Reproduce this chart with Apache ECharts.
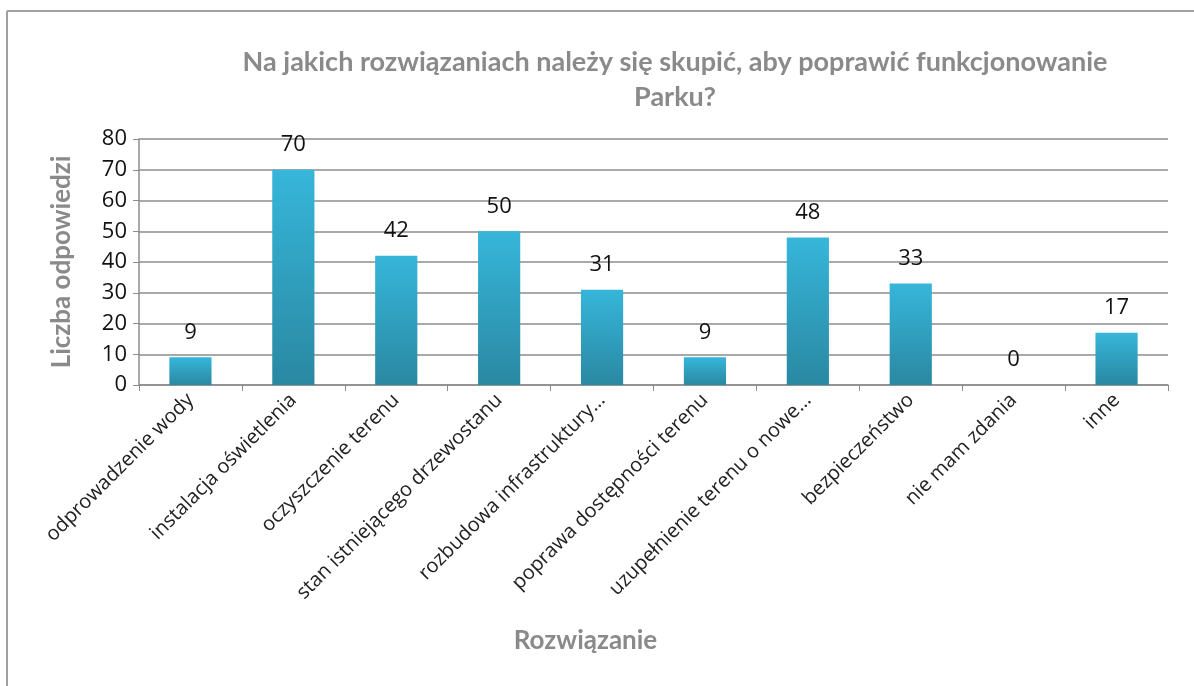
<!DOCTYPE html>
<html>
<head>
<meta charset="utf-8">
<script src="https://cdn.jsdelivr.net/npm/echarts@6/dist/echarts.min.js"></script>
<style>
  html, body { margin: 0; padding: 0; background: #fff; }
  #main { width: 1194px; height: 686px; }
</style>
</head>
<body>
<div id="main"></div>
<script>
var categories = [
  'odprowadzenie wody',
  'instalacja oświetlenia',
  'oczyszczenie terenu',
  'stan istniejącego drzewostanu',
  'rozbudowa infrastruktury…',
  'poprawa dostępności terenu',
  'uzupełnienie terenu o nowe…',
  'bezpieczeństwo',
  'nie mam zdania',
  'inne'
];
var answers = [9, 70, 42, 50, 31, 9, 48, 33, 0, 17];
var yTicks = [0, 80, 10];

var chartDom = document.getElementById('main');
var myChart = echarts.init(chartDom);
var option;

option = {
  animation: false,
  title: {
    text: 'Na jakich rozwiązaniach należy się skupić, aby poprawić funkcjonowanie\nParku?',
    left: 670,
    top: 40,
    textAlign: 'center',
    textStyle: {
      fontFamily: 'Lato',
      fontWeight: 'bold',
      fontSize: 27,
      lineHeight: 35,
      color: '#8a8a8a'
    }
  },
  graphic: [
    { type: 'line', shape: { x1: 7, y1: 11, x2: 1194, y2: 11 }, style: { stroke: '#a0a0a0', lineWidth: 2 } },
    { type: 'line', shape: { x1: 7, y1: 11, x2: 7, y2: 686 }, style: { stroke: '#a0a0a0', lineWidth: 2 } }
  ],
  grid: {
    left: 139,
    right: 26,
    top: 139,
    bottom: 301
  },
  xAxis: {
    type: 'category',
    data: categories,
    name: 'Rozwiązanie',
    nameLocation: 'middle',
    nameGap: 243,
    nameTextStyle: {
      fontFamily: 'Lato',
      fontWeight: 'bold',
      fontSize: 26,
      color: '#8a8a8a',
      padding: [0, 136, 0, 0]
    },
    axisLine: { lineStyle: { color: '#8c8c8c', width: 1.5 } },
    axisTick: { show: true, length: 6, lineStyle: { color: '#8c8c8c' } },
    axisLabel: {
      interval: 0,
      rotate: 45,
      margin: 12,
      fontFamily: 'Open Sans',
      fontSize: 20,
      color: '#222'
    }
  },
  yAxis: {
    type: 'value',
    min: yTicks[0],
    max: yTicks[1],
    interval: yTicks[2],
    name: 'Liczba odpowiedzi',
    nameLocation: 'middle',
    nameGap: 64,
    nameTextStyle: {
      fontFamily: 'Lato',
      fontWeight: 'bold',
      fontSize: 26,
      color: '#8a8a8a'
    },
    axisLine: { show: true, lineStyle: { color: '#8c8c8c', width: 1.5 } },
    axisTick: { show: true, length: 6, lineStyle: { color: '#8c8c8c' } },
    axisLabel: {
      margin: 12,
      fontFamily: 'Open Sans',
      fontSize: 22,
      color: '#111'
    },
    splitLine: { lineStyle: { color: '#8c8c8c', width: 1.5 } }
  },
  series: [
    {
      type: 'bar',
      data: answers,
      barWidth: '41%',
      itemStyle: {
        color: new echarts.graphic.LinearGradient(0, 0, 0, 1, [
          { offset: 0, color: '#36b6da' },
          { offset: 1, color: '#2a88a2' }
        ])
      },
      label: {
        show: true,
        position: 'top',
        distance: 14,
        fontFamily: 'Open Sans',
        fontSize: 22,
        color: '#111'
      }
    }
  ]
};

option && myChart.setOption(option);
</script>
</body>
</html>
